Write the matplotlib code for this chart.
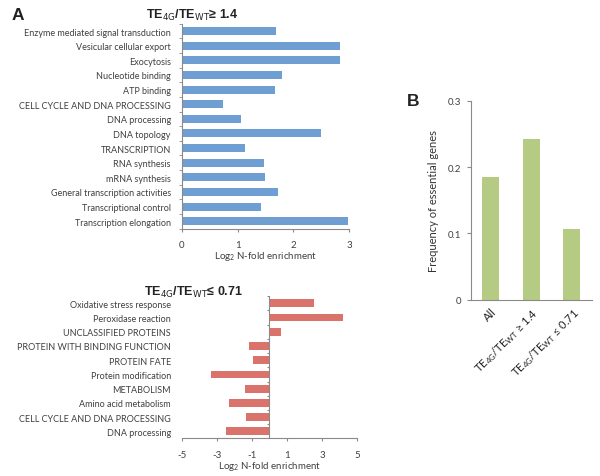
import matplotlib
matplotlib.use("Agg")
import matplotlib.pyplot as plt
import numpy as np

plt.rcParams['font.family'] = ['Lato', 'DejaVu Sans']
plt.rcParams['mathtext.fontset'] = 'custom'
plt.rcParams['mathtext.rm'] = 'Lato'
plt.rcParams['mathtext.default'] = 'rm'

# ---- data ----
up_categories = ["Enzyme mediated signal transduction", "Vesicular cellular export", "Exocytosis",
                 "Nucleotide binding", "ATP binding", "CELL CYCLE AND DNA PROCESSING",
                 "DNA processing", "DNA topology", "TRANSCRIPTION", "RNA synthesis",
                 "mRNA synthesis", "General transcription activities", "Transcriptional control",
                 "Transcription elongation"]
up_values = [1.69, 2.84, 2.84, 1.80, 1.67, 0.74, 1.06, 2.49, 1.14, 1.48, 1.50, 1.72, 1.42, 2.98]

down_categories = ["Oxidative stress response", "Peroxidase reaction", "UNCLASSIFIED PROTEINS",
                   "PROTEIN WITH BINDING FUNCTION", "PROTEIN FATE", "Protein modification",
                   "METABOLISM", "Amino acid metabolism", "CELL CYCLE AND DNA PROCESSING",
                   "DNA processing"]
down_values = [2.53, 4.18, 0.67, -1.19, -0.96, -3.33, -1.42, -2.34, -1.34, -2.47]

ess_labels = ["All", r"TE$_{4G}$/TE$_{WT}$ ≥ 1.4", r"TE$_{4G}$/TE$_{WT}$ ≤ 0.71"]
ess_values = [0.185, 0.243, 0.107]

up_ticks = [0, 1, 2, 3]
down_ticks = [-5, -3, -1, 1, 3, 5]
ess_ticks = [0, 0.1, 0.2, 0.3]

BLUE = "#6f9fd2"
RED = "#d9736c"
GREEN = "#b5cb83"
GRAY = "#8a8a8a"
TXT = "#404040"

fig = plt.figure(figsize=(6.0, 4.77), dpi=100)

# ---- Panel A top ----
ax1 = fig.add_axes([0.3033, 0.5187, 0.2783, 0.4295])
n1 = len(up_categories)
y1 = np.arange(n1)
ax1.barh(y1, up_values, height=0.55, color=BLUE)
ax1.set_ylim(n1 - 0.5, -0.5)
ax1.set_xlim(0, 3)
ax1.set_yticks(y1)
ax1.set_yticklabels(up_categories, fontsize=6.5, color=TXT)
ax1.set_yticks(np.arange(-0.5, n1, 1), minor=True)
ax1.tick_params(axis='y', which='major', length=0, pad=8)
ax1.tick_params(axis='y', which='minor', length=2.5, color=GRAY, direction='out')
ax1.set_xticks(up_ticks)
ax1.set_xticklabels([str(t) for t in up_ticks], fontsize=7, color=TXT)
ax1.tick_params(axis='x', length=2.5, color=GRAY, pad=6)
for s in ['top', 'right']:
    ax1.spines[s].set_visible(False)
for s in ['left', 'bottom']:
    ax1.spines[s].set_color(GRAY)
    ax1.spines[s].set_linewidth(0.8)
ax1.set_xlabel(r"Log$_2$ N-fold enrichment", fontsize=7, color=TXT, labelpad=0)

# ---- Panel A bottom ----
ax2 = fig.add_axes([0.3033, 0.0788, 0.2917, 0.2981])
n2 = len(down_categories)
y2 = np.arange(n2)
ax2.barh(y2, down_values, height=0.55, color=RED)
ax2.set_ylim(n2 - 0.5, -0.5)
ax2.set_xlim(-5, 5)
ax2.set_yticks(y2)
ax2.set_yticklabels(down_categories, fontsize=6.5, color=TXT)
ax2.tick_params(axis='y', length=0, pad=8)
ax2.set_xticks(down_ticks)
ax2.set_xticklabels([str(t) for t in down_ticks], fontsize=7, color=TXT)
ax2.tick_params(axis='x', length=2.5, color=GRAY, pad=6)
for s in ['top', 'right', 'left']:
    ax2.spines[s].set_visible(False)
ax2.spines['bottom'].set_color(GRAY)
ax2.spines['bottom'].set_linewidth(0.8)
ax2.axvline(0, color=GRAY, linewidth=0.8, zorder=3)
ax2.hlines(np.arange(-0.5, n2, 1), -0.15, 0, color=GRAY, linewidth=0.8, zorder=3)
ax2.set_xlabel(r"Log$_2$ N-fold enrichment", fontsize=7, color=TXT, labelpad=0)

# ---- Panel B ----
ax3 = fig.add_axes([0.7842, 0.3696, 0.2025, 0.4172])
x3 = np.arange(len(ess_labels))
ax3.bar(x3, ess_values, width=0.41, color=GREEN)
ax3.set_xlim(-0.5, len(ess_labels) - 0.5)
ax3.set_ylim(0, 0.3)
ax3.set_yticks(ess_ticks)
ax3.set_yticklabels(["0", "0.1", "0.2", "0.3"], fontsize=7, color=TXT)
ax3.tick_params(axis='y', length=3, color=GRAY, pad=4)
ax3.set_xticks(x3)
ax3.set_xticklabels(ess_labels, rotation=45, ha='right', rotation_mode='anchor',
                    fontsize=8, color='#222222')
ax3.tick_params(axis='x', length=0, pad=4)
for s in ['top', 'right']:
    ax3.spines[s].set_visible(False)
for s in ['left', 'bottom']:
    ax3.spines[s].set_color(GRAY)
    ax3.spines[s].set_linewidth(0.8)
ax3.set_ylabel("Frequency of essential genes", fontsize=8, color='#333333', labelpad=6)

# ---- titles / panel letters ----
fig.text(0.321, 1 - 15 / 477, r"TE$_{4G}$/TE$_{WT}$≥ 1.4", fontsize=9, fontweight='bold',
         family='Liberation Sans', ha='center', va='center', color='#222222',
         math_fontfamily='dejavusans')
fig.text(0.3225, 1 - 292 / 477, r"TE$_{4G}$/TE$_{WT}$≤ 0.71", fontsize=9, fontweight='bold',
         family='Liberation Sans', ha='center', va='center', color='#222222',
         math_fontfamily='dejavusans')
fig.text(0.02, 1 - 15 / 477, "A", fontsize=12.5, fontweight='bold', family='Liberation Sans',
         ha='left', va='center', color='#222222')
fig.text(0.678, 1 - 102 / 477, "B", fontsize=12.5, fontweight='bold', family='Liberation Sans',
         ha='left', va='center', color='#222222')

fig.savefig("out.png", dpi=100)
